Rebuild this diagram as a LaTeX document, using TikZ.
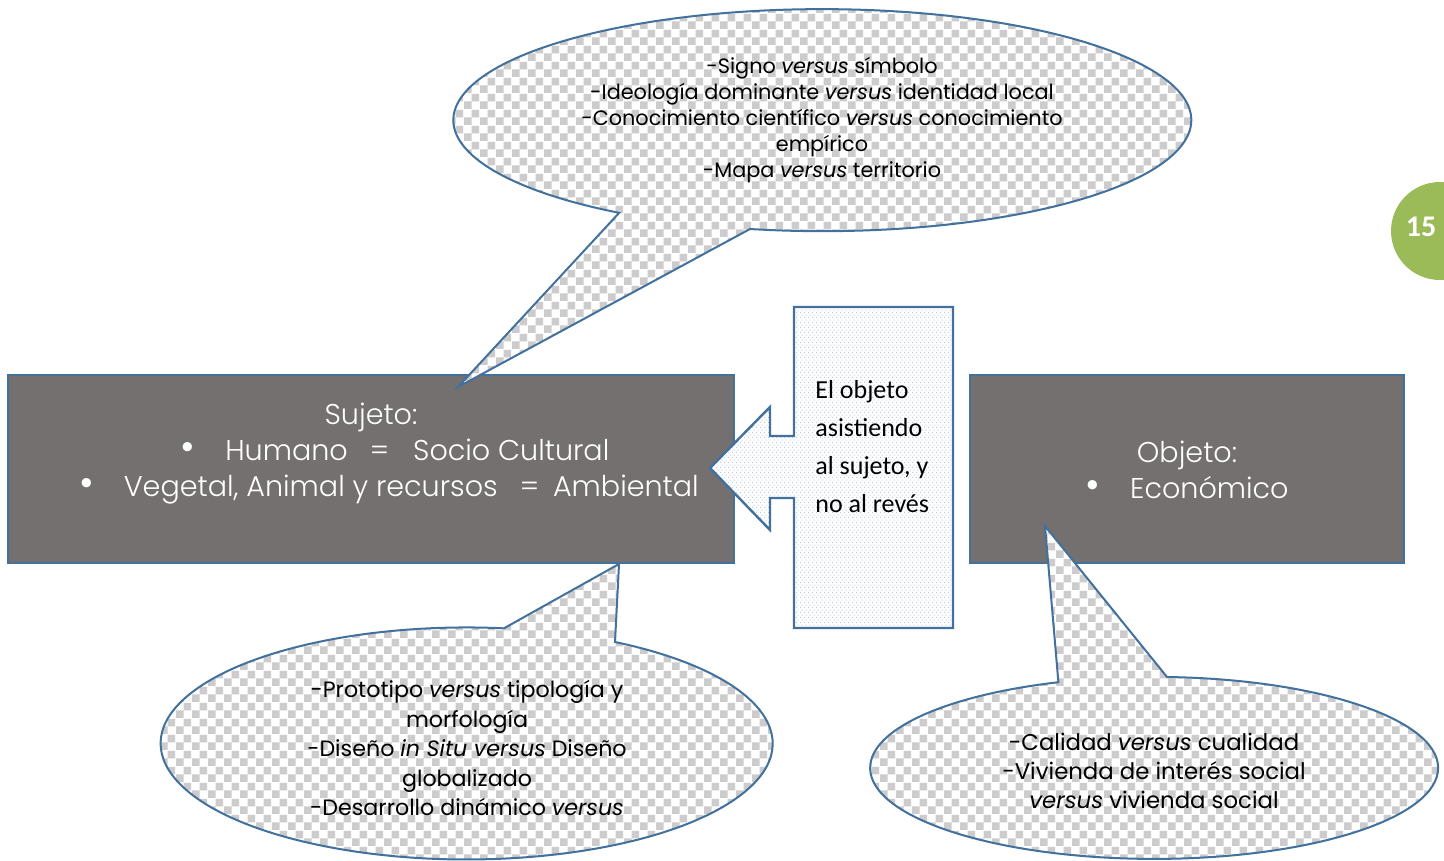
\documentclass[tikz,border=0pt]{standalone}
\usepackage{fontspec}
\setmainfont{Poppins}
\newfontfamily\thinfont{Poppins Light}
\newfontfamily\calibri{Carlito}
\usetikzlibrary{patterns}

\definecolor{lineblue}{RGB}{65,113,156}
\definecolor{boxgray}{RGB}{116,112,111}
\definecolor{checkgray}{RGB}{205,203,203}
\definecolor{dotblue}{RGB}{190,200,222}
\definecolor{pagegreen}{RGB}{155,187,89}

\pgfdeclarepatternformonly{checks}{\pgfqpoint{0pt}{0pt}}{\pgfqpoint{8pt}{8pt}}{\pgfqpoint{8pt}{8pt}}{%
  \pgfpathrectangle{\pgfqpoint{0pt}{0pt}}{\pgfqpoint{4pt}{4pt}}%
  \pgfpathrectangle{\pgfqpoint{4pt}{4pt}}{\pgfqpoint{4pt}{4pt}}%
  \pgfusepath{fill}%
}
\pgfdeclarepatternformonly{finedots}{\pgfqpoint{0pt}{0pt}}{\pgfqpoint{2pt}{2.6pt}}{\pgfqpoint{2pt}{2.6pt}}{%
  \pgfpathrectangle{\pgfqpoint{0pt}{0pt}}{\pgfqpoint{0.7pt}{0.7pt}}%
  \pgfpathrectangle{\pgfqpoint{1pt}{1.3pt}}{\pgfqpoint{0.7pt}{0.7pt}}%
  \pgfusepath{fill}%
}
\newcommand{\bigdot}{{\fontsize{20}{18}\selectfont\textbullet}}

\begin{document}
\begin{tikzpicture}[x=0.5pt, y=-0.5pt,
    bubble/.style={draw=lineblue, line width=1pt, preaction={fill=white},
      pattern=checks, pattern color=checkgray},
    box/.style={draw=lineblue, line width=1.3pt, fill=boxgray},
    pointer/.style={draw=lineblue, line width=1.2pt, preaction={fill=white},
      pattern=finedots, pattern color=dotblue},
    bubbletext/.style={align=center, inner sep=0pt, font=\fontsize{10.4}{13}\selectfont},
    boxtext/.style={text=white, inner sep=0pt, anchor=base, font=\thinfont\fontsize{14.3}{18}\selectfont}]
   \fill[white] (0,0) rectangle (1444,861);
   \useasboundingbox (0,0) rectangle (1444,861);

   \node[box, minimum width=363pt, minimum height=94pt] (sujeto) at (371,469) {};
   \node[box, minimum width=217pt, minimum height=94pt] (objeto) at (1187,469) {};

   \node[boxtext] (sujetoTitle) at (371,424) {Sujeto:};
   \node[boxtext] (sujetoA) at (395,460)
     {\bigdot\hspace{15pt}Humano\hspace{11pt}=\hspace{12pt}Socio Cultural};
   \node[boxtext] (sujetoB) at (389,496)
     {\bigdot\hspace{15pt}Vegetal, Animal y recursos\hspace{11pt}=\hspace{7pt}Ambiental};
   \node[boxtext] (objetoTitle) at (1187,462) {Objeto:};
   \node[boxtext] (objetoA) at (1187,498) {\bigdot\hspace{15pt}Económico};

   \draw[pointer] (794,307) -- (953,307) -- (953,628) -- (794,628) -- (794,498)
     -- (770,498) -- (770,530) -- (710,468) -- (770,407) -- (770,436) -- (794,436) -- cycle;
   \node[anchor=west, align=left, inner sep=0pt, font=\calibri\fontsize{13}{19}\selectfont]
     (asiste) at (815,447) {El objeto\\asistiendo\\al sujeto, y\\no al revés};

   \coordinate (tipTop) at (458,387);
   \coordinate (tipLeft) at (619,564);
   \coordinate (tipRight) at (1045,526);

   \draw[bubble] (tipTop) -- (750,229)
     arc[start angle=101.3, end angle=-236.6, x radius=369, y radius=111] -- cycle;
   \draw[bubble] (tipLeft) -- (615,642)
     arc[start angle=-61, end angle=277, x radius=306, y radius=116] -- cycle;
   \draw[bubble] (tipRight) -- (1167,677)
     arc[start angle=-87.4, end angle=250.3, x radius=284, y radius=91] -- cycle;

   \node[bubbletext] (signos) at (822,120)
     {-Signo \textit{versus} símbolo\\
      -Ideología dominante \textit{versus} identidad local\\
      -Conocimiento científico \textit{versus} conocimiento\\
      empírico\\
      -Mapa \textit{versus} territorio};
   \node[bubbletext, font=\fontsize{11.1}{14.75}\selectfont] (diseno) at (467,748)
     {-Prototipo \textit{versus} tipología y\\
      morfología\\
      -Diseño \textit{in Situ versus} Diseño\\
      globalizado\\
      -Desarrollo dinámico \textit{versus}};
   \node[bubbletext, font=\fontsize{11.4}{14.5}\selectfont] (vivienda) at (1154,771)
     {-Calidad \textit{versus} cualidad\\
      -Vivienda de interés social\\
      \textit{versus} vivienda social};

   \node[circle, fill=pagegreen, inner sep=0pt, minimum size=49pt] (badge) at (1440,231) {};
   \node[text=white, inner sep=0pt, font=\calibri\bfseries\fontsize{15}{18}\selectfont]
     (pagenum) at (1421,227) {15};
 \end{tikzpicture}
\end{document}
